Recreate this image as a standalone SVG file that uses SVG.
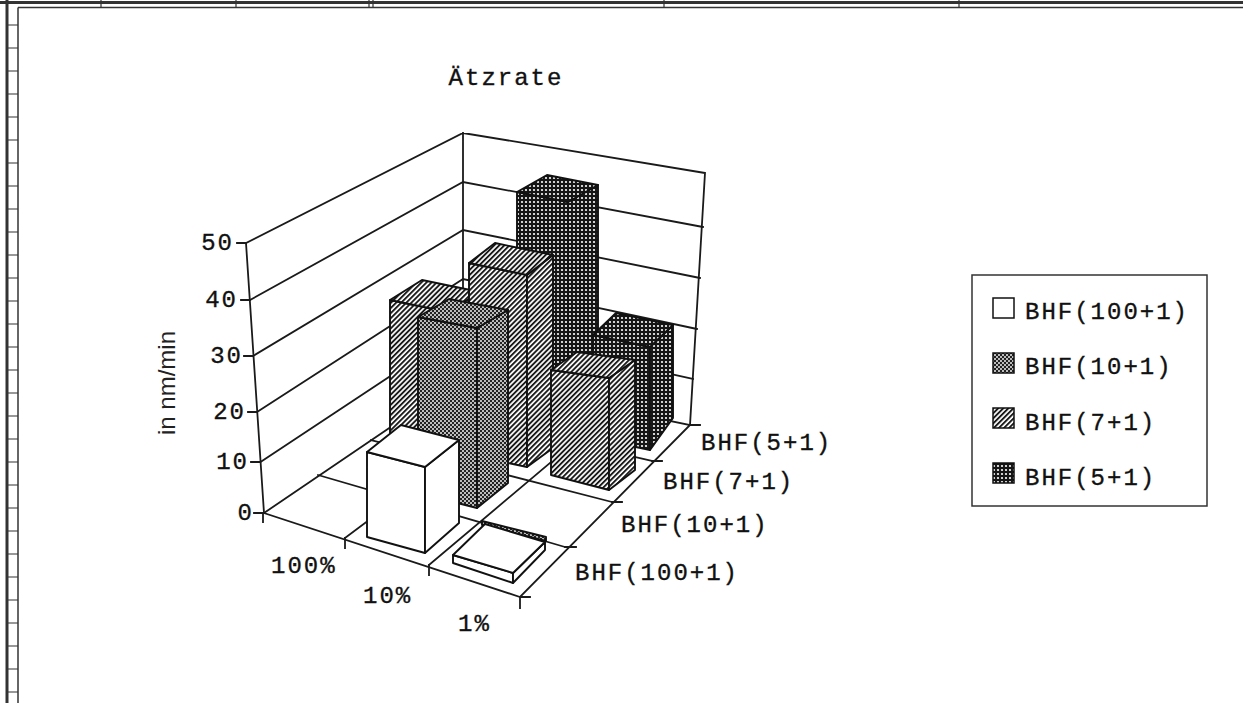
<svg xmlns="http://www.w3.org/2000/svg" width="1243" height="703" viewBox="0 0 1243 703">
<defs>
<pattern id="ph" width="3.6" height="3.6" patternUnits="userSpaceOnUse" patternTransform="rotate(-45)"><rect width="3.6" height="3.6" fill="#fff"/><rect width="3.6" height="1.9" fill="#1a1a1a"/></pattern>
<pattern id="p10" width="4" height="4" patternUnits="userSpaceOnUse"><rect width="4" height="4" fill="#222"/><circle cx="1" cy="1" r="0.95" fill="#fff"/><circle cx="3" cy="3" r="0.95" fill="#fff"/></pattern>
<pattern id="p5" width="4" height="4" patternUnits="userSpaceOnUse"><rect width="4" height="4" fill="#151515"/><circle cx="2" cy="2" r="1.1" fill="#fff"/></pattern>
<style>
.fr{stroke:#333;fill:none}
.ln{stroke:#1a1a1a;stroke-width:1.8;fill:none;stroke-linecap:square}
.bar polygon{stroke:#111;stroke-width:1.9;stroke-linejoin:round}
.w{fill:#fff}.h{fill:url(#ph)}.d{fill:url(#p10)}.k{fill:url(#p5)}
.t{font-family:"Liberation Mono","DejaVu Sans Mono",monospace;font-size:24px;letter-spacing:2px;fill:#111;stroke:#111;stroke-width:0.35}
.s{font-family:"Liberation Sans",Arial,sans-serif;font-size:24px;fill:#222}
</style>
</defs>
<rect width="1243" height="703" fill="#fff"/>
<g id="frame">
<line class="fr" x1="0" y1="2.5" x2="1243" y2="2.5" stroke-width="3"/>
<line class="fr" x1="18" y1="7.5" x2="1243" y2="7.5" stroke-width="1.5"/>
<line class="fr" x1="7" y1="0" x2="7" y2="703" stroke-width="3"/>
<line class="fr" x1="18" y1="7.5" x2="18" y2="703" stroke-width="1.5"/>
<path class="fr" stroke-width="1.2" d="M101 0V8M236 0V8M369 0V8M373 0V8M664 0V8M959 0V8"/>
<path class="fr" stroke-width="1.2" d="M8 25H18M8 48H18M8 71H18M8 94H18M8 117H18M8 140H18M8 163H18M8 186H18M8 209H18M8 232H18M8 255H18M8 278H18M8 301H18M8 324H18M8 347H18M8 370H18M8 393H18M8 416H18M8 439H18M8 462H18M8 485H18M8 508H18M8 531H18M8 554H18M8 577H18M8 600H18M8 623H18M8 646H18M8 669H18M8 692H18"/>
</g>
<text id="title" class="t" x="506" y="85" text-anchor="middle">Ätzrate</text>
<g id="walls">
<path class="ln" d="M246 243L463 133L705 173M463 133V378M705 173L690 425"/>
<path class="ln" d="M250 300L463 182L703 227M253 356L463 230L700 278M257 412L463 279L697 329M260.5 462L463 328L693 379"/>
<path class="ln" d="M246 243L264 513M237 243H246M241 300H250M244 356H253M248 412H257M251 462H260.5M254 513H264"/>
</g>
<g id="floor">
<path class="ln" d="M264 513L463 378L690 425L520 597Z"/>
<path class="ln" d="M345 538L538 393.5M429 565L614 409"/>
<path class="ln" d="M318 475L565 547M371 440L612 502M419 407L652 461"/>
<path class="ln" d="M263 513V522M345 538V548M429 565V575M520 597V608M520 597H530M565 547H576M612 502H622M652 461H662M690 425H700"/>
</g>
<g id="axis-labels">
<text class="t" x="234" y="250" text-anchor="end">50</text>
<text class="t" x="238" y="307" text-anchor="end">40</text>
<text class="t" x="243" y="363" text-anchor="end">30</text>
<text class="t" x="246" y="419" text-anchor="end">20</text>
<text class="t" x="249" y="469" text-anchor="end">10</text>
<text class="t" x="254" y="520" text-anchor="end">0</text>
<text class="s" transform="translate(175 383) rotate(-90)" text-anchor="middle">in nm/min</text>
<text class="t" x="271" y="573">100%</text>
<text class="t" x="363" y="603">10%</text>
<text class="t" x="458" y="631">1%</text>
<text class="t" x="701" y="450">BHF(5+1)</text>
<text class="t" x="663" y="489">BHF(7+1)</text>
<text class="t" x="621" y="532">BHF(10+1)</text>
<text class="t" x="575" y="580">BHF(100+1)</text>
</g>
<g id="bars" class="bar">
<g id="bar-5-10">
<polygon class="k" points="517,192 568,202 568,436 517,426"/>
<polygon class="k" points="568,202 598,185 598,420 568,436"/>
<polygon class="k" points="517,192 547,175 598,185 568,202"/>
</g>
<g id="bar-5-1">
<polygon class="k" points="593,335 650,347 650,450 593,438"/>
<polygon class="k" points="650,347 673,325 673,418 650,450"/>
<polygon class="k" points="593,335 616,313 673,325 650,347"/>
</g>
<g id="bar-7-100">
<polygon class="h" points="390,300 448,312 448,454 390,442"/>
<polygon class="h" points="448,312 480,292 480,434 448,454"/>
<polygon class="h" points="390,300 422,280 480,292 448,312"/>
</g>
<g id="bar-7-10">
<polygon class="h" points="469,263 527,275 527,467 469,455"/>
<polygon class="h" points="527,275 553,255 553,448 527,467"/>
<polygon class="h" points="469,263 495,243 553,255 527,275"/>
</g>
<g id="bar-7-1">
<polygon class="h" points="551,370 609,378 609,490 551,475"/>
<polygon class="h" points="609,378 635,360 635,470 609,490"/>
<polygon class="h" points="551,370 577,352 635,360 609,378"/>
</g>
<g id="bar-10-10">
<polygon class="d" points="418,317 477,328 477,508 418,493"/>
<polygon class="d" points="477,328 508,310 508,483 477,508"/>
<polygon class="d" points="418,317 449,299 508,310 477,328"/>
</g>
<g id="bar-10-1">
<polygon class="d" points="482,521 546,537 546,541 482,525"/>
</g>
<g id="bar-100-10">
<polygon class="w" points="367,452 425,467 425,553 367,537"/>
<polygon class="w" points="425,467 459,440 459,523 425,553"/>
<polygon class="w" points="367,452 401,425 459,440 425,467"/>
</g>
<g id="bar-100-1">
<polygon class="w" points="453,555 513,573 513,583 453,563"/>
<polygon class="w" points="513,573 545,542 545,550 513,583"/>
<polygon class="w" points="453,555 485,524 545,542 513,573"/>
</g>
</g>
<g id="legend">
<rect x="972" y="275" width="235" height="231" fill="#fff" stroke="#333" stroke-width="1.5"/>
<g class="bar">
<rect x="993" y="298" width="21" height="20" class="w" stroke="#111" stroke-width="1.5"/>
<rect x="993" y="353" width="21" height="20" class="d" stroke="#111" stroke-width="1.5"/>
<rect x="993" y="408" width="21" height="20" class="h" stroke="#111" stroke-width="1.5"/>
<rect x="993" y="463" width="21" height="20" class="k" stroke="#111" stroke-width="1.5"/>
</g>
<text class="t" x="1025" y="319">BHF(100+1)</text>
<text class="t" x="1025" y="374">BHF(10+1)</text>
<text class="t" x="1025" y="430">BHF(7+1)</text>
<text class="t" x="1025" y="485">BHF(5+1)</text>
</g>
</svg>
